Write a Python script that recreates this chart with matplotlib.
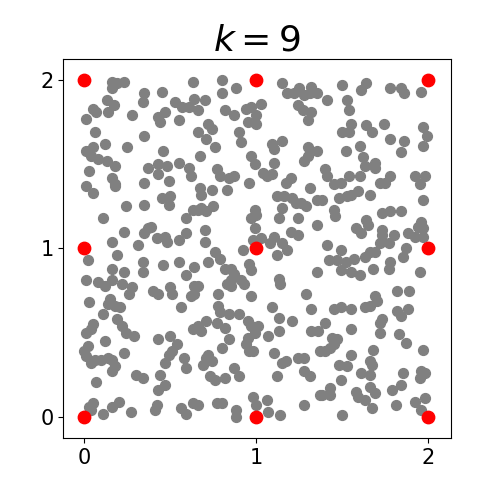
import matplotlib
matplotlib.use("Agg")
import matplotlib.pyplot as plt

# grid centres (k = 9)
center_x = [0, 0, 0, 1, 1, 1, 2, 2, 2]
center_y = [0, 1, 2, 0, 1, 2, 0, 1, 2]

# sample points
grey_x = [
    0.16, 0.19, 0.23, 0.16, 0.63, 0.35, 0.34, 0.45, 0.13, 0.17, 0.14, 0.05, 0.07, 0.01, 0.28, 0.43,
    0.47, 0.44, 0.55, 0.53, 0.57, 0.61, 0.64, 0.06, 0.35, 0.12, 0.01, 0.05, 0.04, 0.08, 0.13, 0.25,
    0.46, 0.18, 0.03, 0.37, 0.43, 0.48, 0.43, 0.55, 0.61, 0.62, 0.16, 0.18, 0.35, 0.49,
    0.80, 0.88, 0.80, 1.15, 1.18, 1.22, 1.25, 1.28, 1.31, 1.32, 1.35, 1.24, 1.27, 1.32, 1.30, 0.70,
    0.66, 0.82, 0.87, 0.94, 0.97, 1.03, 1.00, 0.95, 1.00, 0.72, 0.74, 0.66, 0.71, 0.90, 0.91, 0.76,
    1.09, 1.15, 1.10, 1.30, 1.35, 1.30, 1.28, 0.67, 0.97, 0.99, 1.10, 1.04, 1.06, 1.09, 0.77, 0.79,
    0.84, 0.87, 1.20, 1.17, 0.96,
    1.41, 1.50, 1.64, 1.61, 1.78, 1.84, 1.86, 1.96, 1.53, 1.54, 1.55, 1.50, 1.54, 1.64, 1.67, 1.74,
    1.78, 1.86, 1.97, 1.99, 1.97, 1.84, 1.52, 1.60, 1.62, 1.63, 1.69, 1.69, 1.40, 1.41, 1.54, 1.60,
    1.72, 1.75, 1.78, 1.92, 1.98, 1.95, 1.45, 1.49,
    0.01, 0.05, 0.18, 0.45, 0.50, 0.49, 0.24, 0.35, 0.63, 0.11, 0.59, 0.23, 0.16, 0.35, 0.37, 0.39,
    0.42, 0.47, 0.48, 0.55, 0.59, 0.31, 0.02, 0.19, 0.34, 0.34, 0.46, 0.55, 0.64, 0.23, 0.16, 0.59,
    0.01, 0.08, 0.12, 0.16, 0.22, 0.28, 0.26, 0.40, 0.43, 0.50, 0.51, 0.64, 0.62, 0.03, 0.15, 0.14,
    0.18, 0.21, 0.56,
    0.67, 0.74, 0.83, 0.68, 1.12, 1.16, 1.21, 1.23, 1.26, 1.29, 1.31, 1.35, 1.15, 0.66, 0.68, 0.71,
    0.75, 0.99, 1.00, 0.97, 1.13, 1.24, 1.35, 0.70, 0.70, 0.99, 1.20, 1.24, 0.98, 1.03, 1.08, 1.10,
    1.15, 1.18, 0.92, 1.12, 0.76, 0.79, 0.72, 0.96, 0.97, 0.82, 0.85, 0.87, 0.85, 1.35, 0.66, 0.83,
    0.85, 0.91, 0.93, 1.13, 1.14, 0.64, 0.78, 0.97, 1.29, 0.78, 1.09, 1.32,
    1.55, 1.59, 1.53, 1.48, 1.66, 1.38, 1.97, 1.45, 1.46, 1.73, 1.78, 1.84, 1.58, 1.61, 1.64, 1.65,
    1.73, 1.73, 1.80, 1.88, 1.92, 1.97, 1.96, 1.94, 1.97, 1.41, 1.49, 1.72, 1.77, 1.87, 1.85, 1.63,
    1.66, 1.69, 1.42, 1.47, 1.52, 1.57, 1.49, 1.55, 1.60, 1.68, 1.78, 1.77, 1.95, 1.82, 1.89, 1.69,
    1.70, 1.63, 1.66, 1.45, 1.49, 1.55, 1.82, 1.88,
    0.11, 0.19, 0.22, 0.24, 0.29, 0.05, 0.01, 0.04, 0.63, 0.43, 0.50, 0.12, 0.54, 0.51, 0.49, 0.02,
    0.00, 0.01, 0.04, 0.06, 0.10, 0.14, 0.16, 0.18, 0.16, 0.23, 0.58, 0.59, 0.47, 0.07, 0.30, 0.34,
    0.44, 0.47, 0.43, 0.05, 0.03, 0.04, 0.11, 0.16, 0.20, 0.27, 0.42, 0.41, 0.56, 0.59, 0.63,
    0.79, 0.84, 0.90, 0.66, 0.68, 0.71, 0.77, 0.82, 0.95, 0.97, 1.01, 0.99, 1.13, 1.21, 1.07, 1.13,
    1.32, 1.36, 0.84, 0.95, 0.94, 0.96, 0.98, 0.80, 1.10, 0.72, 0.71, 0.74, 0.69, 0.87, 1.15, 1.17,
    1.24, 1.28, 1.37, 0.73, 0.76, 0.82, 0.90, 1.12, 1.28, 1.31, 0.66, 0.77, 0.80, 0.88, 0.88, 0.98,
    1.00, 1.06, 1.07, 1.14, 1.28, 1.37,
    1.84, 1.40, 1.55, 1.72, 1.73, 1.72, 1.44, 1.47, 1.45, 1.43, 1.40, 1.83, 1.87, 1.55, 1.68, 1.97,
    1.66, 1.67, 1.48, 1.53, 1.61, 1.66, 1.49, 1.85, 1.96, 1.98, 1.95, 1.43, 1.38, 1.43, 1.58, 1.59,
    1.63, 1.66, 1.69, 1.79, 1.84, 1.67, 1.81, 1.92, 1.98, 1.96, 1.50,
]
grey_y = [
    1.99, 1.98, 1.99, 1.95, 1.99, 1.92, 1.87, 1.93, 1.88, 1.85, 1.81, 1.83, 1.81, 1.77, 1.79, 1.78,
    1.81, 1.75, 1.76, 1.87, 1.84, 1.84, 1.89, 1.69, 1.67, 1.62, 1.58, 1.60, 1.55, 1.53, 1.52, 1.60,
    1.58, 1.49, 1.46, 1.48, 1.50, 1.49, 1.44, 1.51, 1.48, 1.43, 1.42, 1.38, 1.39, 1.40,
    2.00, 1.95, 1.92, 1.98, 1.92, 1.92, 1.95, 1.91, 1.92, 1.96, 1.92, 1.85, 1.82, 1.81, 1.76, 1.88,
    1.82, 1.82, 1.79, 1.83, 1.84, 1.86, 1.79, 1.75, 1.74, 1.74, 1.71, 1.69, 1.65, 1.69, 1.63, 1.60,
    1.62, 1.64, 1.59, 1.60, 1.58, 1.55, 1.52, 1.55, 1.55, 1.50, 1.51, 1.45, 1.43, 1.44, 1.47, 1.43,
    1.42, 1.43, 1.42, 1.39, 1.39,
    1.88, 1.97, 1.98, 1.94, 1.95, 1.95, 1.92, 1.93, 1.88, 1.82, 1.74, 1.69, 1.69, 1.73, 1.69, 1.74,
    1.65, 1.64, 1.72, 1.67, 1.61, 1.57, 1.58, 1.61, 1.54, 1.49, 1.51, 1.48, 1.47, 1.43, 1.43, 1.43,
    1.39, 1.39, 1.43, 1.43, 1.43, 1.38, 1.38, 1.39,
    1.37, 1.33, 1.37, 1.30, 1.31, 1.26, 1.25, 1.26, 1.23, 1.18, 1.18, 1.10, 1.04, 1.09, 1.12, 1.13,
    1.06, 1.07, 1.04, 1.05, 1.09, 1.02, 0.93, 0.96, 0.92, 0.86, 0.90, 0.92, 0.89, 0.86, 0.88, 0.84,
    0.81, 0.80, 0.78, 0.81, 0.79, 0.77, 0.73, 0.75, 0.73, 0.77, 0.73, 0.78, 0.72, 0.68, 0.70, 0.67,
    0.66, 0.65, 0.65,
    1.36, 1.35, 1.35, 1.32, 1.31, 1.31, 1.30, 1.27, 1.27, 1.25, 1.36, 1.29, 1.24, 1.23, 1.24, 1.22,
    1.25, 1.23, 1.20, 1.18, 1.18, 1.18, 1.14, 1.11, 1.04, 1.12, 1.10, 1.08, 1.05, 1.06, 1.03, 1.07,
    1.03, 0.99, 0.99, 0.96, 0.98, 0.94, 0.92, 0.91, 0.87, 0.88, 0.88, 0.85, 0.81, 0.86, 0.78, 0.79,
    0.78, 0.81, 0.79, 0.82, 0.79, 0.73, 0.73, 0.72, 0.73, 0.66, 0.65, 0.64,
    1.32, 1.34, 1.31, 1.30, 1.32, 1.29, 1.29, 1.23, 1.19, 1.21, 1.22, 1.22, 1.12, 1.09, 1.17, 1.14,
    1.11, 1.08, 1.08, 1.09, 1.07, 1.07, 1.16, 1.13, 1.12, 1.02, 0.99, 1.03, 1.03, 1.00, 0.95, 0.95,
    0.98, 0.98, 0.93, 0.93, 0.92, 0.94, 0.87, 0.86, 0.84, 0.88, 0.92, 0.88, 0.86, 0.75, 0.75, 0.72,
    0.69, 0.65, 0.66, 0.64, 0.65, 0.64, 0.63, 0.64,
    0.61, 0.58, 0.54, 0.50, 0.48, 0.55, 0.50, 0.52, 0.52, 0.46, 0.48, 0.45, 0.43, 0.39, 0.37, 0.42,
    0.39, 0.36, 0.32, 0.34, 0.34, 0.35, 0.34, 0.30, 0.27, 0.38, 0.35, 0.29, 0.32, 0.21, 0.25, 0.23,
    0.25, 0.19, 0.16, 0.08, 0.06, 0.04, 0.02, 0.06, 0.09, 0.03, 0.07, 0.04, 0.05, 0.02, 0.08,
    0.62, 0.61, 0.61, 0.54, 0.51, 0.57, 0.56, 0.53, 0.57, 0.54, 0.54, 0.50, 0.59, 0.57, 0.48, 0.51,
    0.51, 0.51, 0.46, 0.47, 0.43, 0.39, 0.39, 0.41, 0.38, 0.37, 0.35, 0.33, 0.31, 0.29, 0.32, 0.33,
    0.35, 0.35, 0.39, 0.24, 0.22, 0.23, 0.24, 0.24, 0.27, 0.24, 0.07, 0.08, 0.08, 0.04, 0.00, 0.12,
    0.07, 0.10, 0.03, 0.01, 0.07, 0.13,
    0.60, 0.56, 0.52, 0.56, 0.58, 0.50, 0.47, 0.46, 0.43, 0.41, 0.39, 0.49, 0.44, 0.37, 0.40, 0.40,
    0.33, 0.31, 0.31, 0.30, 0.26, 0.25, 0.22, 0.26, 0.27, 0.26, 0.23, 0.17, 0.13, 0.13, 0.15, 0.12,
    0.10, 0.18, 0.14, 0.16, 0.19, 0.05, 0.07, 0.09, 0.11, 0.04, 0.01,
]

fig = plt.figure(figsize=(5, 4.92), dpi=100)
ax = fig.add_axes([0.1266, 0.1098, 0.7748, 0.7697])
ax.scatter(grey_x, grey_y, s=50, color="gray", zorder=2)
ax.scatter(center_x, center_y, s=80, color="red", zorder=3)
ax.set_title("$k=9$", fontsize=26)
ax.set_xlim(-0.122, 2.13)
ax.set_ylim(-0.125, 2.123)
ax.set_xticks([0, 1, 2])
ax.set_yticks([0, 1, 2])
ax.tick_params(labelsize=15)
fig.savefig("out.png", dpi=100)
plt.close(fig)
